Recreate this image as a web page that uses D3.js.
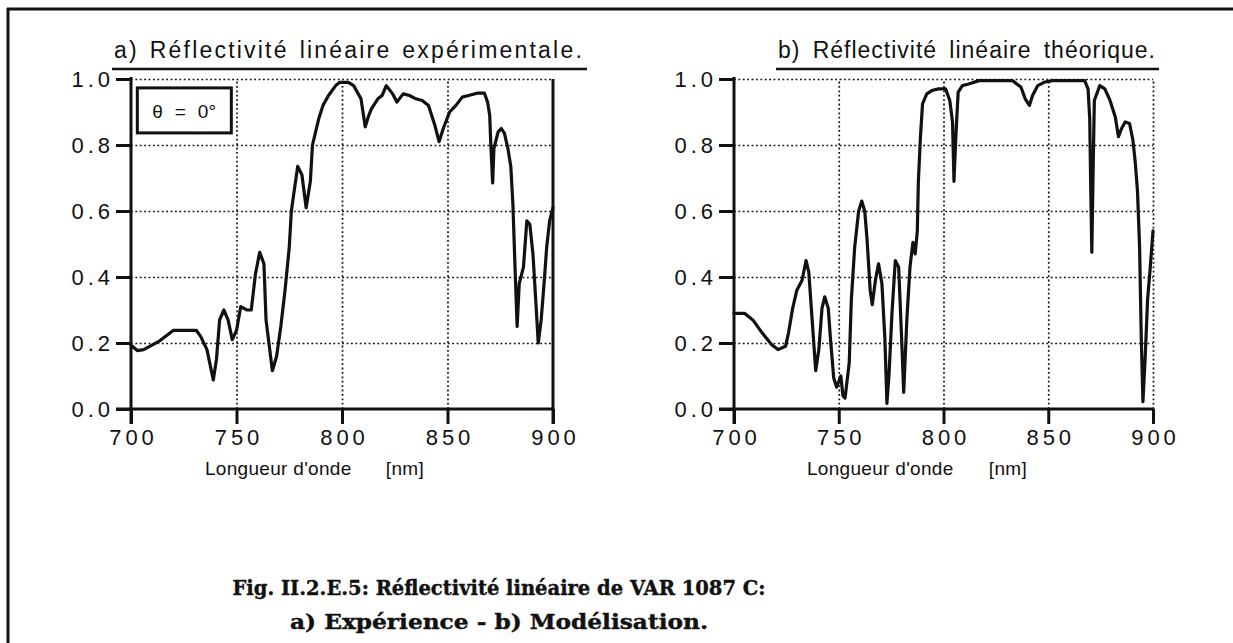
<!DOCTYPE html>
<html>
<head>
<meta charset="utf-8">
<script src="https://cdn.jsdelivr.net/npm/d3@7"></script>
<style>
  html, body { margin: 0; padding: 0; background: #fff; }
  svg { display: block; }
  .tick-label { font-family: "Liberation Sans", Arial, sans-serif; font-size: 22px; letter-spacing: 4px; fill: #111; }
  .title { font-family: "Liberation Sans", Arial, sans-serif; font-size: 23px; fill: #111; }
  .axis-title { font-family: "Liberation Sans", Arial, sans-serif; font-size: 19px; letter-spacing: 0.3px; fill: #111; }
  .caption { font-family: "DejaVu Serif", serif; font-weight: bold; font-size: 20px; fill: #111; stroke: #111; stroke-width: 0.4px; }
</style>
</head>
<body>
<svg id="fig" width="1233" height="643"></svg>
<script>
// Experimental linear reflectivity (panel a)
const wavelengthA = [700, 703, 706, 713, 720, 731, 733, 736, 739, 740.5, 742, 744, 746, 748, 750, 752, 755, 757, 759, 761, 763, 764, 767, 769, 771, 773, 775, 776, 778, 779, 781, 783, 785, 786, 789, 791, 793.6, 797, 799, 803, 805.5, 809, 811, 812.7, 814, 817, 819, 821, 824, 826, 829, 832, 835, 838, 841, 844, 846, 848, 851, 854, 857, 860, 864, 867.5, 869, 870, 870.6, 871.4, 872, 874, 875.5, 877, 878.6, 880, 881, 882, 883, 884, 886, 887.6, 889, 890.5, 892, 893, 894.4, 896, 897, 898.4, 900];
const reflectA = [0.193, 0.177, 0.18, 0.204, 0.238, 0.238, 0.22, 0.18, 0.088, 0.15, 0.27, 0.30, 0.27, 0.21, 0.238, 0.31, 0.30, 0.30, 0.41, 0.475, 0.44, 0.27, 0.116, 0.16, 0.25, 0.36, 0.49, 0.60, 0.69, 0.735, 0.71, 0.61, 0.69, 0.80, 0.88, 0.92, 0.95, 0.98, 0.99, 0.99, 0.98, 0.94, 0.855, 0.89, 0.91, 0.94, 0.95, 0.98, 0.955, 0.93, 0.955, 0.95, 0.94, 0.935, 0.92, 0.86, 0.81, 0.85, 0.90, 0.92, 0.945, 0.95, 0.957, 0.957, 0.93, 0.89, 0.79, 0.685, 0.79, 0.84, 0.85, 0.835, 0.79, 0.735, 0.62, 0.43, 0.25, 0.38, 0.43, 0.57, 0.56, 0.47, 0.31, 0.20, 0.27, 0.40, 0.49, 0.57, 0.61];

// Theoretical linear reflectivity (panel b)
const wavelengthB = [700, 701, 705, 709, 713.5, 718, 721, 724.6, 726, 728, 730, 732.5, 734.4, 735.7, 737.3, 739, 740.5, 742, 743.3, 745, 746, 747.6, 749, 751, 752, 753, 755, 756, 757.6, 759.5, 761, 762.4, 763.5, 765, 766, 767.5, 769, 770.6, 772, 773, 774, 775.4, 777, 778.6, 780, 781, 782.5, 784, 785.4, 786.5, 787.5, 788, 789, 790, 792, 794.4, 797.6, 801, 803, 804.3, 805, 806, 807, 809, 812, 817, 833, 837, 839, 841, 842.5, 845, 848, 852, 867.4, 869, 869.8, 870.3, 870.8, 871.4, 872, 874.6, 877, 879.5, 882, 883.5, 885, 886.7, 888.8, 890.4, 891.5, 892.6, 893.6, 894.4, 895.2, 896.3, 897.4, 898.7, 900];
const reflectB = [0.29, 0.29, 0.29, 0.27, 0.23, 0.195, 0.18, 0.19, 0.23, 0.305, 0.36, 0.39, 0.45, 0.415, 0.27, 0.116, 0.18, 0.305, 0.34, 0.305, 0.216, 0.094, 0.066, 0.10, 0.04, 0.033, 0.14, 0.33, 0.49, 0.60, 0.63, 0.60, 0.515, 0.36, 0.316, 0.39, 0.44, 0.38, 0.216, 0.017, 0.105, 0.29, 0.45, 0.43, 0.216, 0.05, 0.27, 0.43, 0.505, 0.47, 0.54, 0.69, 0.825, 0.925, 0.955, 0.965, 0.97, 0.97, 0.935, 0.87, 0.69, 0.84, 0.96, 0.98, 0.985, 0.995, 0.995, 0.975, 0.94, 0.92, 0.95, 0.98, 0.99, 0.995, 0.995, 0.97, 0.88, 0.66, 0.475, 0.715, 0.935, 0.98, 0.97, 0.935, 0.885, 0.825, 0.85, 0.87, 0.865, 0.815, 0.75, 0.66, 0.49, 0.216, 0.022, 0.16, 0.33, 0.43, 0.54];

const xTicks = [700, 750, 800, 850, 900];
const yTicks = [0.0, 0.2, 0.4, 0.6, 0.8, 1.0];

const titleA = "a) Réflectivité linéaire expérimentale.";
const titleB = "b) Réflectivité linéaire théorique.";
const xAxisName = "Longueur d'onde";
const xAxisUnit = "[nm]";
const captionLines = ["Fig. II.2.E.5: Réflectivité linéaire de VAR 1087 C:", "a) Expérience  -  b) Modélisation."];

const svg = d3.select("#fig");

// page frame: top and left rules
svg.append("line").attr("x1", 7).attr("x2", 1233).attr("y1", 9).attr("y2", 9)
  .attr("stroke", "#111").attr("stroke-width", 3);
svg.append("line").attr("x1", 8).attr("x2", 8).attr("y1", 8).attr("y2", 643)
  .attr("stroke", "#111").attr("stroke-width", 3);

// place a text so that it spans a given width by widening only the word gaps
function spacedText(sel, x, width) {
  const natural = sel.node().getComputedTextLength();
  const gaps = (sel.text().match(/ /g) || []).length;
  if (gaps > 0) sel.attr("word-spacing", (width - natural) / gaps);
  sel.attr("x", x);
  return sel;
}

function panel(cfg) {
  const x = d3.scaleLinear().domain([700, 900]).range([cfg.left, cfg.right]);
  const y = d3.scaleLinear().domain([0, 1]).range([cfg.bottom, cfg.top]);
  const g = svg.append("g");

  // dotted grid
  const dot = { stroke: "#111", "stroke-width": 1.7, "stroke-dasharray": "1.8,2.6" };
  const gridY = g.append("g").attr("transform", `translate(${cfg.left},0)`)
    .call(d3.axisLeft(y).tickValues(yTicks.filter(v => v > 0)).tickSize(-(cfg.right - cfg.left)).tickFormat(""));
  const gridXVals = cfg.dottedRight ? [750, 800, 850, 900] : [750, 800, 850];
  const gridX = g.append("g").attr("transform", `translate(0,${cfg.bottom})`)
    .call(d3.axisBottom(x).tickValues(gridXVals).tickSize(-(cfg.bottom - cfg.top)).tickFormat(""));
  [gridY, gridX].forEach(gr => {
    gr.select(".domain").remove();
    const l = gr.selectAll(".tick line");
    Object.entries(dot).forEach(([k, v]) => l.attr(k, v));
  });

  // solid right frame on panel a
  if (!cfg.dottedRight) {
    g.append("line").attr("x1", cfg.right).attr("x2", cfg.right)
      .attr("y1", y(1)).attr("y2", cfg.bottom + 15)
      .attr("stroke", "#111").attr("stroke-width", 3);
  }

  // axes
  const ax = g.append("g").attr("transform", `translate(${cfg.left},0)`)
    .call(d3.axisLeft(y).tickValues(yTicks).tickSizeInner(15).tickSizeOuter(0).tickPadding(6)
      .tickFormat(d3.format(".1f")));
  const bx = g.append("g").attr("transform", `translate(0,${cfg.bottom})`)
    .call(d3.axisBottom(x).tickValues(xTicks).tickSizeInner(15).tickSizeOuter(0).tickPadding(5)
      .tickFormat(d3.format("d")));
  [ax, bx].forEach(a => {
    a.select(".domain").attr("stroke", "#111").attr("stroke-width", 3);
    a.selectAll(".tick line").attr("stroke", "#111").attr("stroke-width", 3);
    a.selectAll(".tick text").attr("class", "tick-label").attr("font-size", null).attr("font-family", null).attr("fill", null);
  });
  ax.select(".domain").attr("d", `M0,${y(1) - 2}V${cfg.bottom + 15}`);
  bx.select(".domain").attr("d", `M${cfg.left - 15},0H${cfg.right}`);
  ax.selectAll(".tick text").attr("dx", 4);
  bx.selectAll(".tick text").attr("dx", 2);

  // curve
  const pts = cfg.wl.map((w, i) => [w, cfg.r[i]]);
  g.append("path").datum(pts)
    .attr("fill", "none").attr("stroke", "#111").attr("stroke-width", 3.2)
    .attr("stroke-linejoin", "round").attr("stroke-linecap", "round")
    .attr("d", d3.line().x(d => x(d[0])).y(d => y(d[1])));

  // panel title with underline
  spacedText(svg.append("text").attr("class", "title").attr("y", 58)
    .attr("letter-spacing", cfg.titleTrack).text(cfg.title), cfg.titleX, cfg.titleW);
  svg.append("line").attr("x1", cfg.titleX - 2).attr("x2", cfg.titleX + cfg.titleW + 3)
    .attr("y1", 69).attr("y2", 69).attr("stroke", "#111").attr("stroke-width", 2.5);

  // axis title: name at the left, unit set apart on the right
  svg.append("text").attr("class", "axis-title").attr("x", cfg.xlabX).attr("y", 475).text(xAxisName);
  svg.append("text").attr("class", "axis-title").attr("x", cfg.unitEnd).attr("y", 475)
    .attr("text-anchor", "end").text(xAxisUnit);

  return { x, y };
}

const pa = panel({ left: 131, right: 553, top: 79, bottom: 409, wl: wavelengthA, r: reflectA,
  dottedRight: false, title: titleA, titleX: 114, titleW: 470, titleTrack: 2.2, xlabX: 205, unitEnd: 424 });
panel({ left: 734, right: 1153, top: 79, bottom: 409, wl: wavelengthB, r: reflectB,
  dottedRight: true, title: titleB, titleX: 778, titleW: 378, titleTrack: 1.0, xlabX: 807, unitEnd: 1027 });

// angle of incidence box
const bx0 = pa.x(703), by0 = pa.y(0.973);
svg.append("rect").attr("x", bx0).attr("y", by0).attr("width", 94).attr("height", 45)
  .attr("fill", "#fff").attr("stroke", "#111").attr("stroke-width", 3);
svg.append("text").attr("class", "axis-title").attr("font-size", 22)
  .attr("x", bx0 + 47).attr("y", by0 + 30).attr("text-anchor", "middle")
  .attr("word-spacing", 6)
  .text("θ = 0°");

// figure caption
const capWidths = [533, 418];
captionLines.forEach((s, i) => {
  svg.append("text").attr("class", "caption").attr("x", 499).attr("y", 595 + i * 34)
    .attr("text-anchor", "middle")
    .attr("textLength", capWidths[i]).attr("lengthAdjust", "spacingAndGlyphs")
    .text(s);
});
</script>
</body>
</html>
